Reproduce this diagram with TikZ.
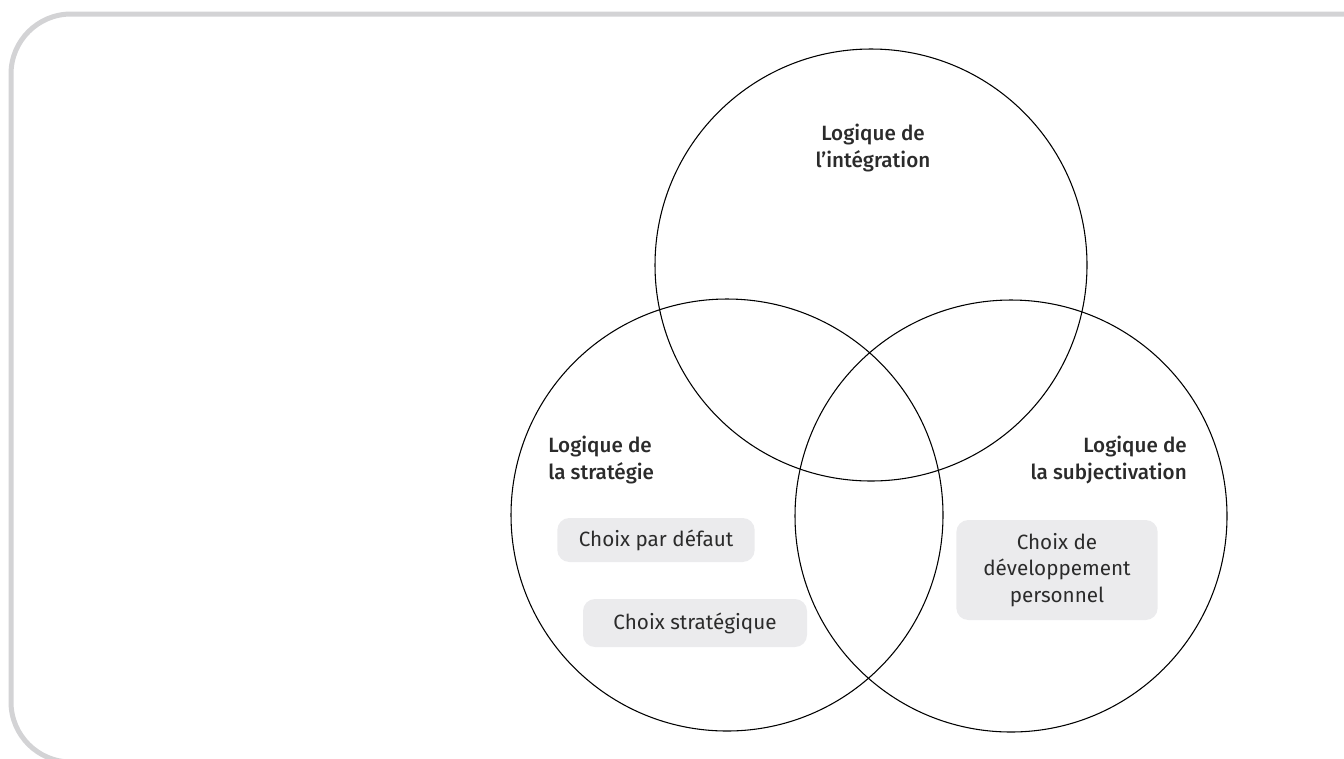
\documentclass[tikz,border=0pt]{standalone}
\usepackage{fontspec}
\setmainfont{Fira Sans}[BoldFont={Fira Sans Medium}]
\definecolor{framegray}{HTML}{D3D3D5}
\definecolor{boxgray}{HTML}{EBEBED}
\definecolor{textgray}{HTML}{2B2B2B}
\tikzset{
  venn/.style={circle, draw, line width=0.8pt, minimum size=324pt, inner sep=0pt},
  title/.style={font=\fontsize{15.5}{20}\selectfont\bfseries, text=textgray, inner sep=0pt},
  choice/.style={rounded corners=9pt, fill=boxgray, text=textgray, inner sep=0pt,
    align=center, font=\fontsize{15.5}{20}\selectfont}
}
\begin{document}
\begin{tikzpicture}[x=0.75pt, y=-0.75pt]
  \useasboundingbox (0,0) rectangle (1344,758);
  % frame
  \draw[framegray, line width=3.75pt, rounded corners=45pt] (1400,14) -- (11,14) -- (11,762) -- (1400,762);

  \node[venn] (integ) at (871,265) {};
  \node[venn] (strat) at (727,515) {};
  \node[venn] (subj) at (1011,516) {};

  \node[title, align=center] (integtxt) at (873,148) {Logique de\\l’intégration};
  \node[title, align=left, anchor=north west] (strattxt) at (548,436) {Logique de\\la stratégie};
  \node[title, align=right, anchor=north east] (subjtxt) at (1187,436) {Logique de\\la subjectivation};

  \node[choice, minimum width=148pt, minimum height=33pt] (defaut) at (656,540) {Choix par défaut};
  \node[choice, minimum width=168pt, minimum height=36pt] (strategique) at (695,623) {Choix stratégique};
  \node[choice, minimum width=151pt, minimum height=75pt] (perso) at (1057,570) {Choix de\\développement\\personnel};
\end{tikzpicture}
\end{document}
